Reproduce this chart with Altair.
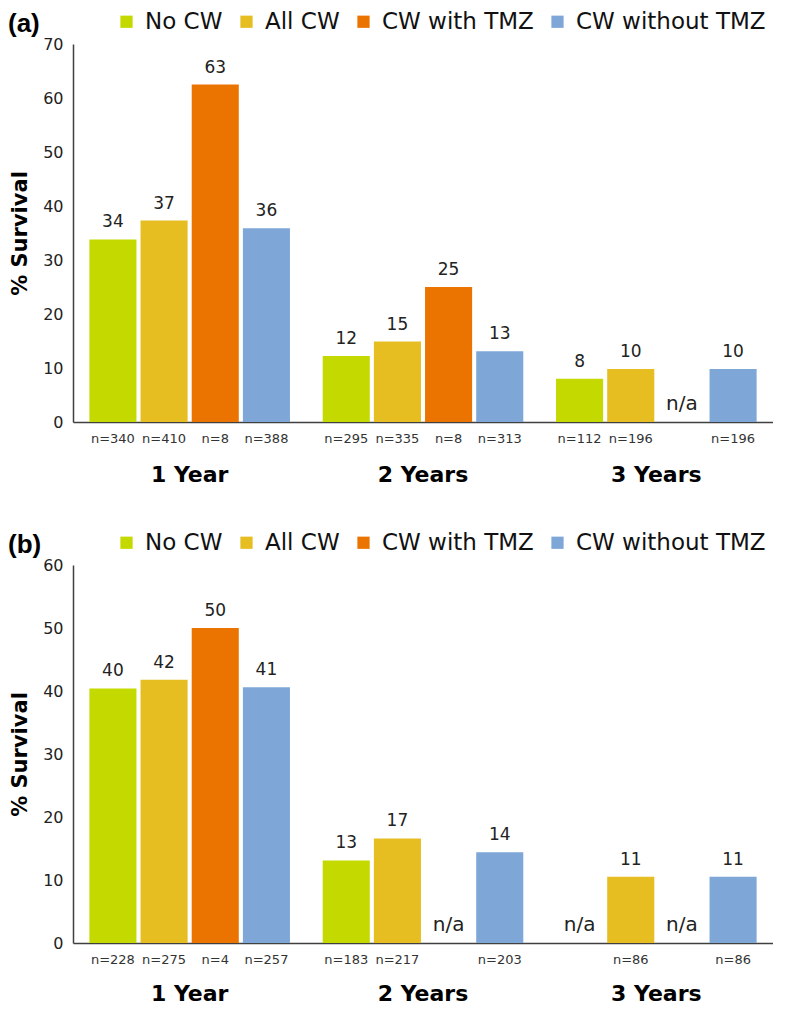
import altair as alt
import pandas as pd

years = ["1 Year", "2 Years", "3 Years"]
series = ["No CW", "All CW", "CW with TMZ", "CW without TMZ"]
colors = ["#C4D900", "#E6BE22", "#EB7400", "#7EA7D8"]

# panel (a)
a_values = [33.8, 37.3, 62.5, 35.9,
            12.2, 14.9, 25.0, 13.1,
            8.0, 9.8, None, 9.8]
a_n = [340, 410, 8, 388,
       295, 335, 8, 313,
       112, 196, None, 196]

# panel (b)
b_values = [40.4, 41.8, 50.0, 40.6,
            13.1, 16.6, None, 14.4,
            None, 10.5, None, 10.5]
b_n = [228, 275, 4, 257,
       183, 217, None, 203,
       None, 86, None, 86]

FONT = "DejaVu Sans"
W, H = 700, 378


def make_df(vals, ns):
    rows = []
    for i, (v, n) in enumerate(zip(vals, ns)):
        rows.append({
            "year": years[i // 4],
            "series": series[i % 4],
            "value": v,
            "label": str(int(v + 0.5)) if v is not None else "n/a",
            "ntext": ("n=%d" % n) if n is not None else "",
            "valid": v is not None,
        })
    return pd.DataFrame(rows)


def panel(vals, ns, ymax, tag, year_pad):
    df = make_df(vals, ns)
    base = alt.Chart(df).encode(
        x=alt.X("year:N", sort=years, title=None,
                scale=alt.Scale(paddingInner=0, paddingOuter=0),
                axis=alt.Axis(ticks=False, tickSize=0, labelAngle=0,
                              labelFont=FONT, labelFontSize=22,
                              labelFontWeight="bold", labelColor="#000",
                              labelBaseline="middle", labelPadding=year_pad,
                              domainColor="#404040", domainWidth=1.5)),
        xOffset=alt.XOffset("series:N", sort=series,
                            scale=alt.Scale(paddingInner=0.08, paddingOuter=0.32)),
    )
    bars = base.transform_filter("datum.valid").mark_bar().encode(
        y=alt.Y("value:Q", scale=alt.Scale(domain=[0, ymax], nice=False),
                axis=alt.Axis(title="% Survival", titleFont=FONT,
                              titleFontSize=21, titleFontWeight="bold",
                              titleColor="#000", titlePadding=12,
                              values=list(range(0, ymax + 1, 10)),
                              ticks=False, grid=False, labelFont=FONT,
                              labelFontSize=16, labelColor="#222",
                              labelPadding=10, domainColor="#404040",
                              domainWidth=1.5)),
        color=alt.Color("series:N", sort=series,
                        scale=alt.Scale(domain=series, range=colors),
                        legend=alt.Legend(orient="none", legendX=42,
                                          legendY=-34, direction="horizontal",
                                          columns=4, title=None, labelLimit=0,
                                          symbolType="square", symbolSize=150,
                                          symbolStrokeWidth=0, symbolOpacity=1,
                                          labelFont=FONT, labelFontSize=23,
                                          labelColor="#111", labelOffset=7,
                                          columnPadding=12)),
    )
    vlabels = base.transform_filter("datum.valid").mark_text(
        dy=-17, fontSize=17, font=FONT, color="#222", baseline="middle"
    ).encode(y="value:Q", text="label:N")
    na = base.transform_filter("!datum.valid").mark_text(
        fontSize=20, font=FONT, color="#222", baseline="middle"
    ).encode(y=alt.value(H - 18), text="label:N")
    nlab = base.mark_text(
        fontSize=13, font=FONT, color="#333", baseline="middle"
    ).encode(y=alt.value(H + 17), text="ntext:N")
    tag_df = pd.DataFrame({"t": [tag]})
    tagtxt = alt.Chart(tag_df).mark_text(
        font="Liberation Sans", fontSize=26, fontWeight="bold", color="#000",
        align="left", baseline="middle"
    ).encode(x=alt.value(-65), y=alt.value(-20), text="t:N")
    return alt.layer(bars, vlabels, na, nlab, tagtxt).properties(width=W, height=H)


chart = alt.vconcat(
    panel(a_values, a_n, 70, "(a)", 52),
    panel(b_values, b_n, 60, "(b)", 50),
    spacing=46,
).resolve_scale(color="independent").properties(
    padding={"left": 0, "top": 2, "right": 0, "bottom": 0}
).configure_view(stroke=None).configure_axis(grid=False)

chart.save("out.html", embed_options={"renderer": "svg", "actions": False})
